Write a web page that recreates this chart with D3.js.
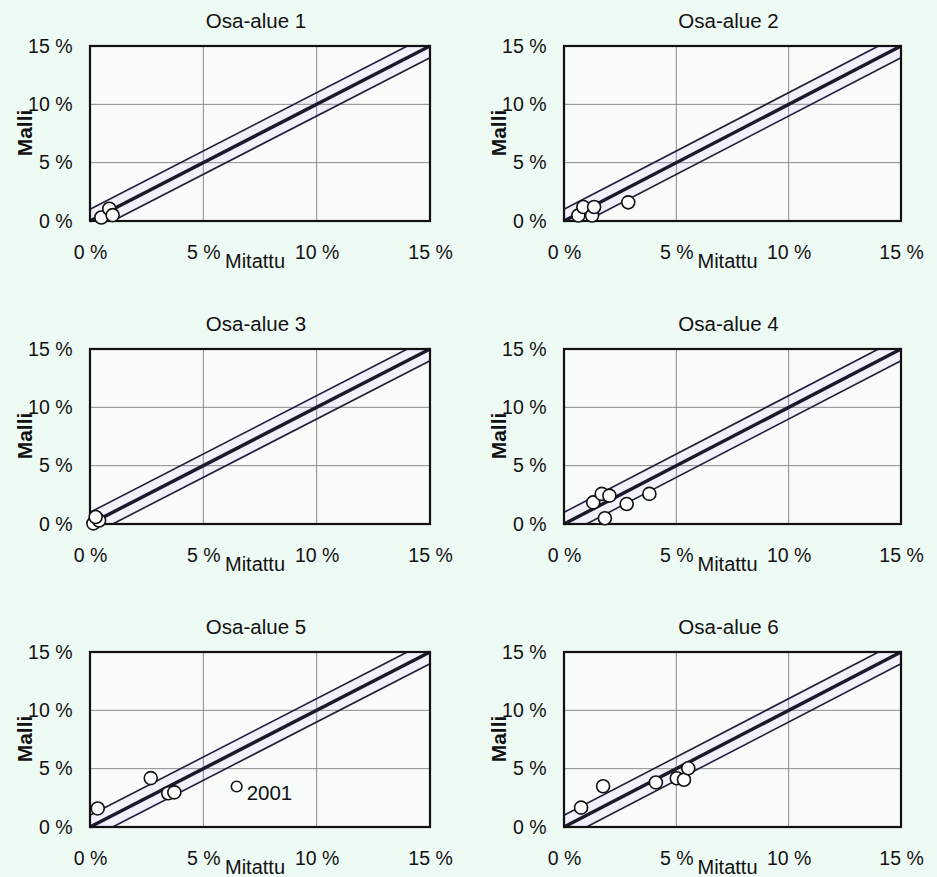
<!DOCTYPE html>
<html>
<head>
<meta charset="utf-8">
<script src="https://cdn.jsdelivr.net/npm/d3@7"></script>
<style>
  html, body { margin: 0; padding: 0; background: #eefaf4; }
  svg { display: block; }
  text { font-family: "Liberation Sans", Arial, sans-serif; fill: #111; }
</style>
</head>
<body>
<svg id="chart" width="937" height="877"></svg>
<script>
// Sub-area titles
const panelTitles = ["Osa-alue 1", "Osa-alue 2", "Osa-alue 3", "Osa-alue 4", "Osa-alue 5", "Osa-alue 6"];

// Measured (Mitattu) vs model (Malli) share, percent
const area1Measured = [0.5, 0.85, 1.0];
const area1Model    = [0.3, 1.05, 0.5];
const area2Measured = [0.64, 0.86, 1.25, 1.34, 2.86];
const area2Model    = [0.47, 1.2, 0.47, 1.2, 1.6];
const area3Measured = [0.15, 0.4, 0.25];
const area3Model    = [0.05, 0.3, 0.6];
const area4Measured = [1.3, 1.68, 2.02, 2.79, 3.8, 1.82];
const area4Model    = [1.85, 2.58, 2.43, 1.71, 2.58, 0.49];
const area5Measured = [0.34, 2.68, 3.45, 3.72];
const area5Model    = [1.59, 4.19, 2.89, 2.97];
const area6Measured = [0.76, 1.74, 4.09, 5.02, 5.34, 5.53];
const area6Model    = [1.66, 3.49, 3.82, 4.18, 4.05, 5.03];

// Labelled outlier in area 5
const area5Outlier = { measured: 6.47, model: 3.47, label: "2001" };

// Axis ticks and reference lines (model = measured + offset)
const tickValues = [0, 5, 10, 15];
const gridValues = [5, 10];
const lineOffsets = [1, 0, -1];
const axisMax = 15;

const measuredSets = [area1Measured, area2Measured, area3Measured, area4Measured, area5Measured, area6Measured];
const modelSets = [area1Model, area2Model, area3Model, area4Model, area5Model, area6Model];

const svg = d3.select("#chart");
const colLeft = [90, 564];
const colWidth = [340, 337];
const rowTop = 46, rowStep = 303, plotH = 175;
const fontStack = "Liberation Sans, Arial, sans-serif";

panelTitles.forEach((title, i) => {
  const col = i % 2, row = Math.floor(i / 2);
  const x0 = colLeft[col], w = colWidth[col];
  const top = rowTop + row * rowStep;
  const x = d3.scaleLinear().domain([0, axisMax]).range([x0, x0 + w]);
  const y = d3.scaleLinear().domain([0, axisMax]).range([top + plotH, top]);
  const g = svg.append("g");

  g.append("rect")
    .attr("x", x(0)).attr("y", y(axisMax))
    .attr("width", x(axisMax) - x(0)).attr("height", y(0) - y(axisMax))
    .attr("fill", "#f8fdfb");

  // tolerance band between the ±1 lines
  const band = [[0, 0], [0, 1], [axisMax - 1, axisMax], [axisMax, axisMax], [axisMax, axisMax - 1], [1, 0]];
  g.append("path")
    .attr("d", d3.line().x(d => x(d[0])).y(d => y(d[1]))(band) + "Z")
    .attr("fill", "#f1f0fb");

  // grid
  g.selectAll(".gx").data(gridValues).join("line")
    .attr("x1", d => x(d)).attr("x2", d => x(d))
    .attr("y1", y(0)).attr("y2", y(axisMax))
    .attr("stroke", "#8a8a8a").attr("stroke-width", 1);
  g.selectAll(".gy").data(gridValues).join("line")
    .attr("x1", x(0)).attr("x2", x(axisMax))
    .attr("y1", d => y(d)).attr("y2", d => y(d))
    .attr("stroke", "#8a8a8a").attr("stroke-width", 1);

  // reference lines
  lineOffsets.forEach(off => {
    const a = Math.max(0, -off), b = Math.min(axisMax, axisMax - off);
    g.append("line")
      .attr("x1", x(a)).attr("y1", y(a + off))
      .attr("x2", x(b)).attr("y2", y(b + off))
      .attr("stroke", off === 0 ? "#1a1a2a" : "#20203a")
      .attr("stroke-width", off === 0 ? 3.5 : 1.6);
  });

  // border
  g.append("rect")
    .attr("x", x(0)).attr("y", y(axisMax))
    .attr("width", x(axisMax) - x(0)).attr("height", y(0) - y(axisMax))
    .attr("fill", "none").attr("stroke", "#111").attr("stroke-width", 2.2);

  // points
  const meas = measuredSets[i], mod = modelSets[i];
  g.selectAll(".pt").data(meas.map((m, k) => [m, mod[k]])).join("circle")
    .attr("cx", d => x(d[0])).attr("cy", d => y(d[1])).attr("r", 6.5)
    .attr("fill", "#fff").attr("stroke", "#111").attr("stroke-width", 1.6);

  if (i === 4) {
    g.append("circle")
      .attr("cx", x(area5Outlier.measured)).attr("cy", y(area5Outlier.model)).attr("r", 5.3)
      .attr("fill", "#fff").attr("stroke", "#111").attr("stroke-width", 1.6);
    g.append("text")
      .attr("x", x(area5Outlier.measured) + 10).attr("y", y(area5Outlier.model) + 13)
      .attr("font-size", 20.5).text(area5Outlier.label);
  }

  // axes
  const yAxis = d3.axisLeft(y).tickValues(tickValues).tickSize(0).tickPadding(17.5)
    .tickFormat(d => d + " %");
  const ya = g.append("g").attr("transform", `translate(${x0},0)`).call(yAxis);
  ya.select(".domain").remove();
  ya.selectAll("text").attr("font-size", 19.5).attr("font-family", fontStack).attr("fill", "#111");

  const xAxis = d3.axisBottom(x).tickValues(tickValues).tickSize(0).tickPadding(24.5)
    .tickFormat(d => d + " %");
  const xa = g.append("g").attr("transform", `translate(0,${top + plotH})`).call(xAxis);
  xa.select(".domain").remove();
  xa.selectAll("text").attr("font-size", 19.5).attr("font-family", fontStack).attr("fill", "#111");

  const cx = x0 + w / 2;
  g.append("text").attr("x", cx - 4).attr("y", top - 18)
    .attr("text-anchor", "middle").attr("font-size", 20.5).text(title);
  g.append("text").attr("x", cx - 5).attr("y", top + plotH + 47)
    .attr("text-anchor", "middle").attr("font-size", 20).text("Mitattu");
  g.append("text")
    .attr("transform", `translate(${x0 - 58},${top + plotH / 2 - 0.5}) rotate(-90)`)
    .attr("text-anchor", "middle").attr("font-size", 21).attr("font-weight", "bold").text("Malli");
});
</script>
</body>
</html>
